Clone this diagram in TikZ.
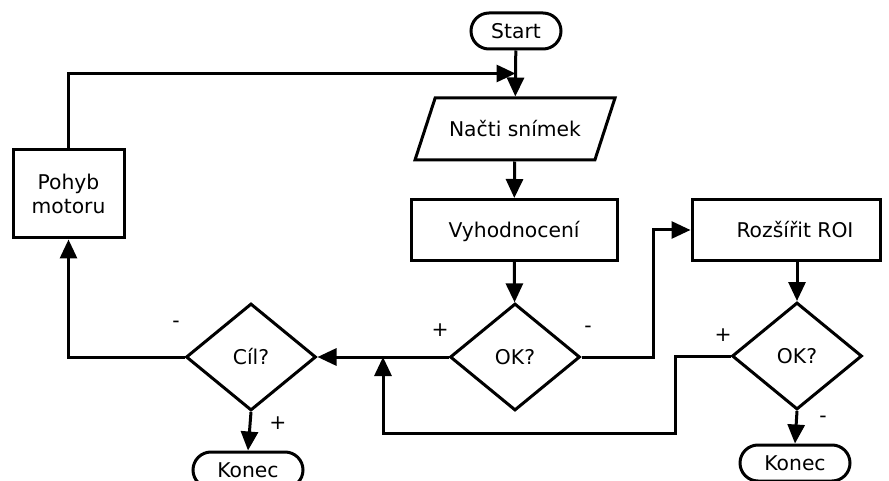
\documentclass[tikz,border=0pt]{standalone}
\usepackage{fontspec}
\setmainfont{DejaVu Sans}
\usetikzlibrary{arrows.meta,shapes.geometric,calc}
\begin{document}
\begin{tikzpicture}[x=1pt,y=-1pt,
  every node/.style={font=\fontsize{20.3pt}{24.5pt}\selectfont},
  flow/.style={draw=black, line width=3pt, fill=white},
  oneline/.style={text height=14.8pt, text depth=0pt},
  terminal/.style={flow, oneline, rectangle, rounded corners=18pt,
    minimum width=90pt, minimum height=36pt, inner sep=0pt},
  process/.style={flow, oneline, rectangle, minimum width=206pt,
    minimum height=61pt, inner sep=0pt},
  io/.style={flow, oneline, trapezium, trapezium left angle=72,
    trapezium right angle=108, trapezium stretches body,
    minimum width=200pt, inner xsep=0pt, inner ysep=23.6pt},
  decision/.style={flow, oneline, diamond, minimum width=130pt,
    minimum height=107pt, inner sep=0pt},
  sign/.style={inner sep=0pt},
  wire/.style={line width=3pt},
  conn/.style={wire, -{Triangle[length=19pt,width=17pt]}}
]
\useasboundingbox (0,0) rectangle (889,481);

% main column
\node[terminal] (start) at (516,31) {Start};
\node[io] (read) at (515,129) {Načti snímek};
\node[process] (eval) at (514,230) {Vyhodnocení};
\node[decision] (ok1) at (515,357) {OK?};

% left branch
\node[decision] (goal) at (251,357) {Cíl?};
\node[terminal, minimum width=110pt] (end1) at (248,470) {Konec};
\node[flow, align=center, minimum width=111pt, minimum height=88pt,
  inner sep=0pt] (motor) at (68.5,194) {Pohyb\\motoru};

% right branch
\node[process, minimum width=188pt] (roi) at (786,230) {\hspace*{18pt}Rozšířit ROI};
\node[decision] (ok2) at (797,356) {OK?};
\node[terminal, minimum width=110pt] (end2) at (795,463) {Konec};

% junction points
\coordinate (join) at ($(start.south)!0.5!(read.north)$);
\coordinate (merge) at (383,357);

% connectors
\draw[conn] (start) -- (read);
\draw[conn] (read) -- (eval);
\draw[conn] (eval) -- (ok1);
\draw[conn] (ok1.east) -- (653,357) |- (roi.west);
\draw[conn] (ok1.west) -- (goal.east);
\draw[conn] (roi.south -| ok2.north) -- (ok2.north);
\draw[conn] (ok2.west) -| (675,433) -| (merge);
\draw[conn] (ok2.south) -- (end2.north);
\draw[conn] (goal.south) -- (end1.north);
\draw[conn] (goal.west) -| (motor.south);
\draw[conn] (motor.north) |- (join);

% branch labels
\node[sign] (s1) at (440,330) {+};
\node[sign] (s2) at (588,329) {-};
\node[sign] (s3) at (723,335) {+};
\node[sign] (s4) at (823,419) {-};
\node[sign] (s5) at (176,324) {-};
\node[sign] (s6) at (278,423) {+};
\end{tikzpicture}
\end{document}
